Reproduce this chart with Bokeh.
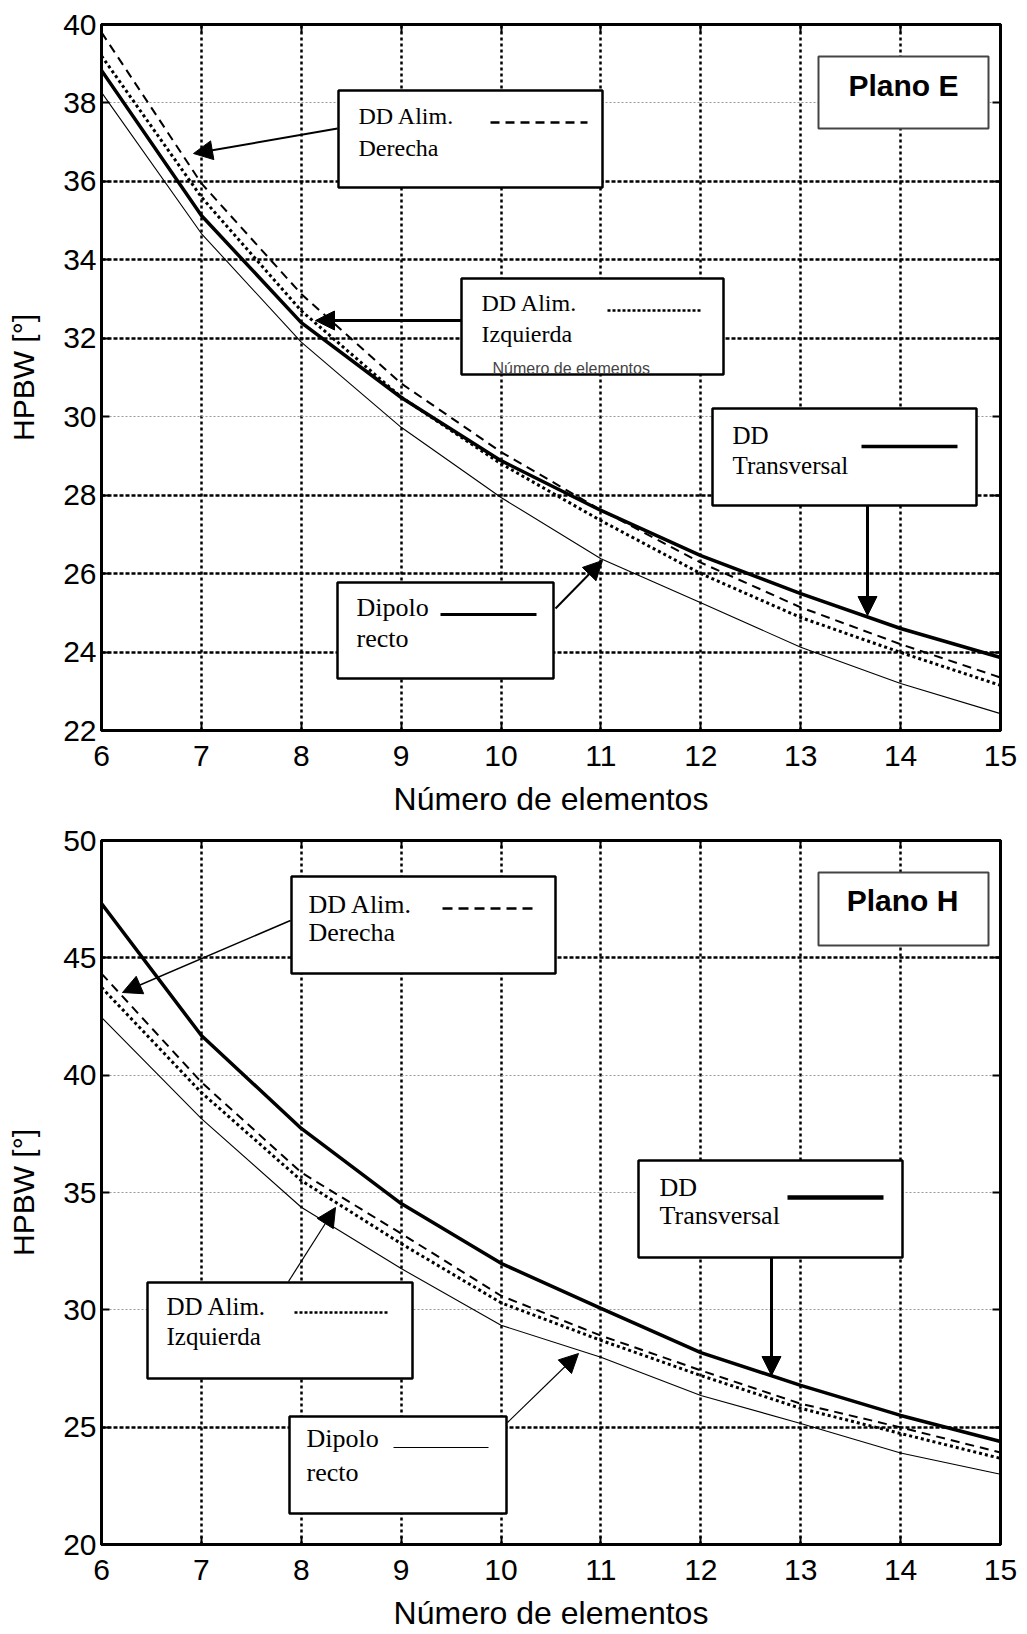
from bokeh.plotting import figure
from bokeh.layouts import column
from bokeh.models import (FixedTicker, LinearAxis, Grid, BoxAnnotation, Label,
                          Arrow, NormalHead, Range1d)
from bokeh.embed import file_html
from bokeh.resources import INLINE

# ---------------- data ----------------
elementos = [6, 7, 8, 9, 10, 11, 12, 13, 14, 15]
x_ticks = [6, 7, 8, 9, 10, 11, 12, 13, 14, 15]

# Plano E
e_dd_transversal = [38.83, 35.13, 32.40, 30.49, 28.88, 27.61, 26.46, 25.49, 24.60, 23.86]
e_dd_derecha = [39.80, 35.95, 33.13, 30.85, 29.10, 27.62, 26.28, 25.14, 24.20, 23.35]
e_dd_izquierda = [39.20, 35.60, 32.70, 30.50, 28.80, 27.35, 26.00, 24.88, 23.99, 23.15]
e_dipolo_recto = [38.27, 34.67, 31.90, 29.73, 27.94, 26.38, 25.26, 24.12, 23.20, 22.43]
e_y_ticks = [22, 24, 26, 28, 30, 32, 34, 36, 38, 40]
e_grid_dark = [24, 26, 28, 32, 34, 36]
e_grid_light = [30, 38]

# Plano H
h_dd_transversal = [47.31, 41.69, 37.73, 34.53, 31.98, 30.06, 28.18, 26.78, 25.50, 24.39]
h_dd_derecha = [44.33, 39.70, 35.85, 33.25, 30.60, 28.90, 27.42, 26.00, 24.99, 23.92]
h_dd_izquierda = [43.74, 39.26, 35.51, 32.82, 30.30, 28.70, 27.20, 25.80, 24.73, 23.67]
h_dipolo_recto = [42.46, 38.15, 34.37, 31.76, 29.34, 27.98, 26.35, 25.16, 23.90, 22.99]
h_y_ticks = [20, 25, 30, 35, 40, 45, 50]
h_grid_dark = [25, 45]
h_grid_light = [30, 35, 40]

SANS = "Liberation Sans"
SERIF = "Liberation Serif"

FRAME_L = 101
FRAME_W = 899


def fx(px):
    return 6 + (px - FRAME_L) * 9 / FRAME_W


def make_fy(ymin, ymax, top, h):
    return lambda py: ymax - (py - top) * (ymax - ymin) / h


def build(ymin, ymax, y_ticks, dark_rows, light_rows, frame_h, b_top, b_bottom,
          transv, der, izq, rec):
    p = figure(x_range=Range1d(6, 15), y_range=Range1d(ymin, ymax),
               frame_width=FRAME_W, frame_height=frame_h,
               min_border_left=FRAME_L, min_border_right=19,
               min_border_top=b_top, min_border_bottom=b_bottom,
               output_backend="svg", toolbar_location=None,
               background_fill_color="white", border_fill_color="white")
    p.outline_line_color = "black"
    p.outline_line_width = 3
    p.outline_line_alpha = 1

    xa = p.xaxis[0]
    ya = p.yaxis[0]
    xa.ticker = FixedTicker(ticks=x_ticks)
    ya.ticker = FixedTicker(ticks=y_ticks)
    for ax in (xa, ya):
        ax.axis_line_width = 3
        ax.axis_line_color = "black"
        ax.major_tick_in = 8
        ax.major_tick_out = 0
        ax.major_tick_line_width = 2
        ax.major_tick_line_color = "black"
        ax.minor_tick_line_color = None
        ax.major_label_text_font = SANS
        ax.major_label_text_font_size = "30px"
        ax.major_label_text_color = "black"
        ax.axis_label_text_font = SANS
        ax.axis_label_text_font_style = "normal"
        ax.axis_label_text_color = "black"
    xa.axis_label = "Número de elementos"
    xa.axis_label_text_font_size = "32px"
    xa.major_label_standoff = 15
    xa.axis_label_standoff = 12
    ya.axis_label = "HPBW [°]"
    ya.axis_label_text_font_size = "30px"
    ya.major_label_standoff = 5
    ya.axis_label_standoff = 20

    ra = LinearAxis(ticker=FixedTicker(ticks=y_ticks), major_label_text_font_size="0px",
                    major_label_standoff=0, major_tick_in=8, major_tick_out=0,
                    major_tick_line_width=2, minor_tick_line_color=None,
                    axis_line_width=3)
    p.add_layout(ra, "right")
    ta = LinearAxis(ticker=FixedTicker(ticks=x_ticks), major_label_text_font_size="0px",
                    major_label_standoff=0, major_tick_in=8, major_tick_out=0,
                    major_tick_line_width=2, minor_tick_line_color=None,
                    axis_line_width=3)
    p.add_layout(ta, "above")

    p.xgrid.grid_line_color = "black"
    p.xgrid.grid_line_width = 2.5
    p.xgrid.grid_line_dash = "3 3"
    p.ygrid.grid_line_color = None
    p.add_layout(Grid(dimension=1, ticker=FixedTicker(ticks=dark_rows),
                      grid_line_color="black", grid_line_width=2.5,
                      grid_line_dash="4 2"))
    p.add_layout(Grid(dimension=1, ticker=FixedTicker(ticks=light_rows),
                      grid_line_color="#9a9a9a", grid_line_width=1.2,
                      grid_line_dash="2 2"))

    p.line(elementos, rec, line_color="black", line_width=1.1)
    p.line(elementos, izq, line_color="black", line_width=3, line_dash="3 3")
    p.line(elementos, der, line_color="black", line_width=2, line_dash="9 6")
    p.line(elementos, transv, line_color="black", line_width=3.5)
    return p


def box(p, fy, l, r, t, b, lw=2.5, color="black"):
    p.add_layout(BoxAnnotation(left=fx(l), right=fx(r), top=fy(t), bottom=fy(b),
                               fill_color="white", fill_alpha=1, line_color=color,
                               line_alpha=1, line_width=lw, level="overlay"))


def text(p, fy, px, py, s, size=25, font=SERIF, style="normal", align="left", color="black"):
    # py is the wanted baseline; compensate the renderer's baseline offset
    p.add_layout(Label(x=fx(px), y=fy(py - 0.4 * size), text=s, text_font=font,
                       text_font_size=f"{size}px", text_font_style=style,
                       text_align=align, text_baseline="alphabetic",
                       text_color=color, level="overlay"))


def seg(p, fy, x0, y0, x1, y1, lw=2, dash="solid", head=False):
    end = NormalHead(size=19, fill_color="black", line_color="black", line_width=1) if head else None
    p.add_layout(Arrow(end=end, x_start=fx(x0), y_start=fy(y0), x_end=fx(x1), y_end=fy(y1),
                       line_width=lw, line_dash=dash, line_color="black", level="overlay"))


# ---------------- Plano E ----------------
p1 = build(22, 40, e_y_ticks, e_grid_dark, e_grid_light, 706, 24, 89,
           e_dd_transversal, e_dd_derecha, e_dd_izquierda, e_dipolo_recto)
fy1 = make_fy(22, 40, 24, 706)

box(p1, fy1, 338, 602, 90, 187)
text(p1, fy1, 358, 125, "DD Alim.", 24)
text(p1, fy1, 358, 157, "Derecha", 24)
seg(p1, fy1, 490, 122, 587, 122, 2.5, "9 6")
seg(p1, fy1, 337, 128, 193, 153, 2, head=True)

box(p1, fy1, 461, 723, 278, 374)
text(p1, fy1, 481, 312, "DD Alim.", 24)
text(p1, fy1, 481, 343, "Izquierda", 24)
text(p1, fy1, 492, 374, "Número de elementos", 16, font=SANS, color="#444444")
seg(p1, fy1, 607, 310, 700, 310, 2.5, "3 2")
seg(p1, fy1, 461, 320, 315, 320, 3, head=True)

box(p1, fy1, 712, 976, 408, 505)
text(p1, fy1, 732, 445, "DD", 25)
text(p1, fy1, 732, 475, "Transversal", 25)
seg(p1, fy1, 861, 446, 957, 446, 3.5)
seg(p1, fy1, 867, 505, 867, 615, 3, head=True)

box(p1, fy1, 337, 553, 582, 678)
text(p1, fy1, 356, 617, "Dipolo", 26)
text(p1, fy1, 356, 648, "recto", 26)
seg(p1, fy1, 440, 614, 536, 614, 3)
seg(p1, fy1, 555, 608, 602, 560, 2, head=True)

box(p1, fy1, 818, 988, 56, 128, 2, "#444444")
text(p1, fy1, 903, 97, "Plano E", 30, font=SANS, style="bold", align="center")

# ---------------- Plano H ----------------
p2 = build(20, 50, h_y_ticks, h_grid_dark, h_grid_light, 704, 21, 89,
           h_dd_transversal, h_dd_derecha, h_dd_izquierda, h_dipolo_recto)
fy2 = make_fy(20, 50, 840, 704)

box(p2, fy2, 291, 555, 876, 973)
text(p2, fy2, 308, 914, "DD Alim.", 26)
text(p2, fy2, 308, 942, "Derecha", 26)
seg(p2, fy2, 442, 908, 538, 908, 2.5, "10 6")
seg(p2, fy2, 290, 920, 122, 992, 1.5, head=True)

box(p2, fy2, 818, 988, 872, 945, 2, "#444444")
text(p2, fy2, 902, 912, "Plano H", 30, font=SANS, style="bold", align="center")

box(p2, fy2, 638, 902, 1160, 1257)
text(p2, fy2, 659, 1197, "DD", 26)
text(p2, fy2, 659, 1225, "Transversal", 26)
seg(p2, fy2, 787, 1197, 883, 1197, 4.5)
seg(p2, fy2, 771, 1257, 771, 1375, 3, head=True)

box(p2, fy2, 147, 412, 1282, 1378)
text(p2, fy2, 166, 1316, "DD Alim.", 25)
text(p2, fy2, 166, 1346, "Izquierda", 25)
seg(p2, fy2, 294, 1312, 388, 1312, 2.5, "3 2")
seg(p2, fy2, 288, 1281, 335, 1207, 1.2, head=True)

box(p2, fy2, 289, 506, 1416, 1513)
text(p2, fy2, 306, 1448, "Dipolo", 26)
text(p2, fy2, 306, 1482, "recto", 26)
seg(p2, fy2, 393, 1447, 488, 1447, 1.2)
seg(p2, fy2, 507, 1422, 578, 1353, 1.2, head=True)

layout = column(p1, p2)
open("out.html", "w").write(file_html(layout, INLINE, "HPBW"))
